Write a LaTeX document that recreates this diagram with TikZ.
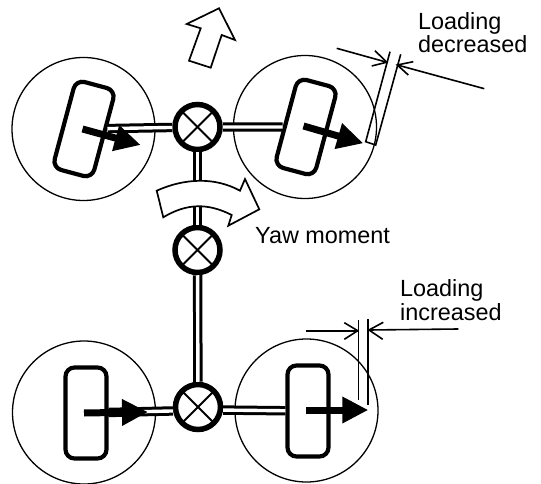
\documentclass[tikz,border=0pt]{standalone}
\usepackage{fontspec}
\setmainfont{Liberation Sans}
\usetikzlibrary{arrows.meta}

\begin{document}
\begin{tikzpicture}[x=1pt,y=-1pt,
    wheel/.style={circle, draw, line width=1.3pt, minimum size=143pt, inner sep=0pt},
    tyre/.style={rectangle, rounded corners=9pt, draw, fill=white, line width=4.2pt, minimum width=41pt, minimum height=91pt, inner sep=0pt},
    joint/.style={circle, draw, fill=white, line width=5.5pt, minimum size=45pt, inner sep=0pt, path picture={
        \draw[line width=1.8pt] (path picture bounding box.north west) -- (path picture bounding box.south east);
        \draw[line width=1.8pt] (path picture bounding box.south west) -- (path picture bounding box.north east);}},
    axle/.style={double, draw=black, double=white, line width=3pt, double distance=3.4pt},
    force/.style={line width=7pt, -{Triangle[length=26pt,width=25pt]}},
    outline/.style={draw, fill=white, line width=1.7pt, line join=miter},
    thin line/.style={line width=1.6pt},
    label/.style={font=\fontsize{23.4pt}{23.6pt}\selectfont, align=left, anchor=base west, inner sep=0pt}]
    \useasboundingbox (0,0) rectangle (541,484);

    \node[wheel] (W1) at (83.5,129) {};
    \node[wheel] (W2) at (305,127) {};
    \node[wheel] (W3) at (84,412.5) {};
    \node[wheel] (W4) at (306.5,410.5) {};

    \node[tyre, rotate=-15] (T1) at (84,129) {};
    \node[tyre, rotate=-15] (T2) at (306,127) {};
    \node[tyre] (T3) at (86,413) {};
    \node[tyre] (T4) at (308,411) {};

    \node[joint] (J1) at (197.5,127) {};
    \node[joint] (J2) at (197.5,250) {};
    \node[joint] (J3) at (198,407) {};

    \draw[axle] (J1) -- (T1);
    \draw[axle] (J1) -- (T2);
    \draw[axle] (J1) -- (J2);
    \draw[axle] (J2) -- (J3);
    \draw[axle] (J3.189) -- (T3);
    \draw[axle] (J3.-7) -- (T4);

    \coordinate (F1) at (140.7,145);
    \coordinate (F2) at (363.3,143.3);
    \coordinate (F3) at (148,412);
    \coordinate (F4) at (368.3,410);
    \draw[force] (T1.center) ++(-1.5,0) -- (F1);
    \draw[force] (T2.center) ++(-2.5,-1) -- (F2);
    \draw[force] (T3.center) ++(-2,0) -- (F3);
    \draw[force] (T4.center) ++(-2,-1) -- (F4);

    % heading arrow
    \draw[outline] (189,60.7) -- (200.7,28.3) -- (186.7,24) -- (219,8.3) -- (235,40) -- (221.7,35) -- (210.7,67.7) -- cycle;
    % yaw arrow
    \draw[outline] (156.7,190.7) .. controls (185,178) and (215,177) .. (240,190.7) -- (245,179) -- (259.3,209.3) -- (228.3,225.7) -- (231.7,215)
        .. controls (208,203) and (187,203) .. (163.3,217.3) -- cycle;

    % upper dimension
    \coordinate (A1) at (336.7,48.3);
    \coordinate (A2) at (386.7,62.2);
    \coordinate (A3) at (397.3,65);
    \coordinate (A4) at (484.3,88.7);
    \coordinate (A5) at (365.7,141.7);
    \coordinate (A6) at (390,51.7);
    \coordinate (A7) at (375.7,145);
    \coordinate (A8) at (400.7,54.3);
    \draw[thin line] (A1) -- (A2);
    \draw[thin line] (A4) -- (A3);
    \draw[thin line] (A2) ++(-11.7,-11.5) -- (A2) -- ++(-15,3.8);
    \draw[thin line] (A3) ++(16,-3.3) -- (A3) -- ++(11,10);
    \draw[thin line] (A6) -- (A5) -- (A7) -- (A8);

    % lower dimension
    \coordinate (B1) at (306,330.7);
    \coordinate (B2) at (357.7,330.7);
    \coordinate (B3) at (369,330);
    \coordinate (B4) at (458.3,329);
    \coordinate (B5) at (358.3,320);
    \coordinate (B6) at (358.3,400);
    \coordinate (B7) at (367.7,319);
    \coordinate (B8) at (367.7,405);
    \draw[thin line] (B1) -- (B2);
    \draw[thin line] (B4) -- (B3);
    \draw[thin line] (B2) ++(-13.4,-8) -- (B2) -- ++(-13.4,8.6);
    \draw[thin line] (B3) ++(14.3,-7.7) -- (B3) -- ++(13.7,9.3);
    \draw[thin line] (B5) -- (B6);
    \draw[thin line] (B7) -- (B8);

    \node[label] (L1) at (418,52.7) {Loading\\decreased};
    \node[label] (L2) at (255,243) {Yaw moment};
    \node[label] (L3) at (400,320) {Loading\\increased};
\end{tikzpicture}
\end{document}
